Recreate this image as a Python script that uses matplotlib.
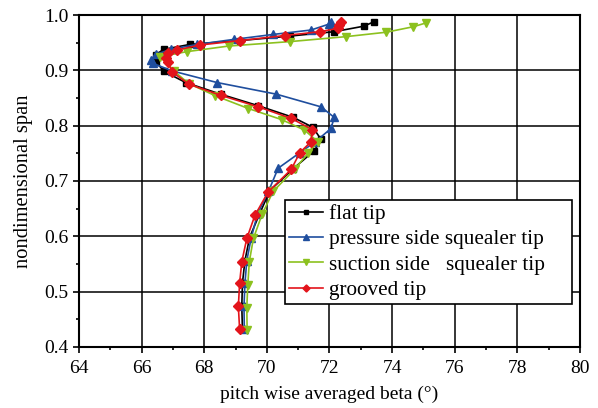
import numpy as np
import matplotlib.pyplot as plt
from matplotlib.ticker import MultipleLocator

plt.rcParams['font.family'] = ['Liberation Serif', 'DejaVu Serif']

# flat tip
flat_beta = [73.42, 73.10, 72.15, 70.73, 69.15, 67.55, 66.70, 66.45, 66.45, 66.72,
             67.41, 68.52, 69.73, 70.84, 71.47, 71.73, 71.52, 70.84, 70.10, 69.78,
             69.45, 69.30, 69.22, 69.20, 69.22]
flat_span = [0.988, 0.980, 0.970, 0.962, 0.954, 0.947, 0.938, 0.928, 0.916, 0.898,
             0.878, 0.857, 0.836, 0.815, 0.797, 0.775, 0.755, 0.722, 0.683, 0.642,
             0.598, 0.556, 0.515, 0.473, 0.432]

# pressure side squealer tip
ps_beta = [72.05, 72.00, 71.41, 70.20, 68.94, 67.78, 66.93, 66.46, 66.30, 66.35,
           66.98, 68.41, 70.30, 71.73, 72.15, 72.05, 71.55, 71.05, 70.36, 70.05,
           69.70, 69.50, 69.36, 69.30, 69.27, 69.28]
ps_span = [0.988, 0.984, 0.973, 0.965, 0.956, 0.947, 0.938, 0.929, 0.919, 0.913,
           0.899, 0.878, 0.857, 0.834, 0.815, 0.795, 0.771, 0.751, 0.723, 0.681,
           0.640, 0.597, 0.556, 0.515, 0.473, 0.432]

# suction side squealer tip
ss_beta = [75.09, 74.68, 73.81, 72.52, 70.73, 68.78, 67.46, 66.60, 67.05, 67.51,
           68.36, 69.41, 70.47, 71.20, 71.63, 71.31, 70.90, 70.20, 69.85, 69.57,
           69.44, 69.39, 69.36, 69.37]
ss_span = [0.986, 0.979, 0.969, 0.961, 0.952, 0.944, 0.934, 0.925, 0.898, 0.876,
           0.854, 0.831, 0.811, 0.792, 0.771, 0.750, 0.722, 0.681, 0.640, 0.596,
           0.554, 0.511, 0.471, 0.430]

# grooved tip
gr_beta = [72.37, 72.31, 72.26, 71.70, 70.57, 69.15, 67.88, 67.14, 66.83, 66.77,
           66.83, 66.98, 67.51, 68.52, 69.73, 70.78, 71.45, 71.41, 71.05, 70.78,
           70.04, 69.62, 69.36, 69.20, 69.13, 69.09, 69.13]
gr_span = [0.988, 0.982, 0.976, 0.970, 0.963, 0.954, 0.946, 0.937, 0.931, 0.922,
           0.916, 0.897, 0.875, 0.855, 0.834, 0.813, 0.793, 0.771, 0.751, 0.721,
           0.680, 0.638, 0.596, 0.554, 0.515, 0.473, 0.432]

fig = plt.figure(figsize=(5.98, 4.08), dpi=100)
ax = fig.add_axes([0.132, 0.150, 0.838, 0.813])

ax.plot(flat_beta, flat_span, color='black', marker='s', ms=4.2, lw=1.2, label='flat tip')
ax.plot(ps_beta, ps_span, color='#1f4e9e', marker='^', ms=5.5, lw=1.2, label='pressure side squealer tip')
ax.plot(ss_beta, ss_span, color='#8cc11f', marker='v', ms=5.5, lw=1.2, label='suction side   squealer tip')
ax.plot(gr_beta, gr_span, color='#e3141b', marker='D', ms=4.8, lw=1.2, label='grooved tip')

ax.set_xlim(64, 80)
ax.set_ylim(0.4, 1.0)
ax.xaxis.set_major_locator(MultipleLocator(2))
ax.xaxis.set_minor_locator(MultipleLocator(1))
ax.yaxis.set_major_locator(MultipleLocator(0.1))
ax.yaxis.set_minor_locator(MultipleLocator(0.05))
ax.yaxis.set_major_formatter(plt.FuncFormatter(lambda v, p: f'{v:.1f}'))
ax.grid(True, which='major', color='black', lw=1.1)
ax.set_axisbelow(True)
ax.tick_params(which='both', direction='out', labelsize=14, width=1.2)
ax.tick_params(which='major', length=4.5)
ax.tick_params(axis='x', which='major', pad=5)
ax.tick_params(axis='y', which='major', pad=3)
ax.tick_params(which='minor', length=2.5)
for s in ax.spines.values():
    s.set_linewidth(1.5)

ax.set_xlabel('pitch wise averaged beta (°)', fontsize=14, labelpad=6)
ax.set_ylabel('nondimensional span', fontsize=14.8, labelpad=8)

leg = ax.legend(loc='upper left', bbox_to_anchor=(0.411, 0.0, 0.573, 0.443), mode='expand',
                fontsize=15.3, frameon=True, fancybox=False, edgecolor='black', framealpha=1,
                handlelength=1.6, handletextpad=0.28, borderpad=0.2, labelspacing=0.26,
                borderaxespad=0, markerscale=0.75)
leg.get_frame().set_linewidth(1.2)

fig.savefig('out.png', dpi=100)
